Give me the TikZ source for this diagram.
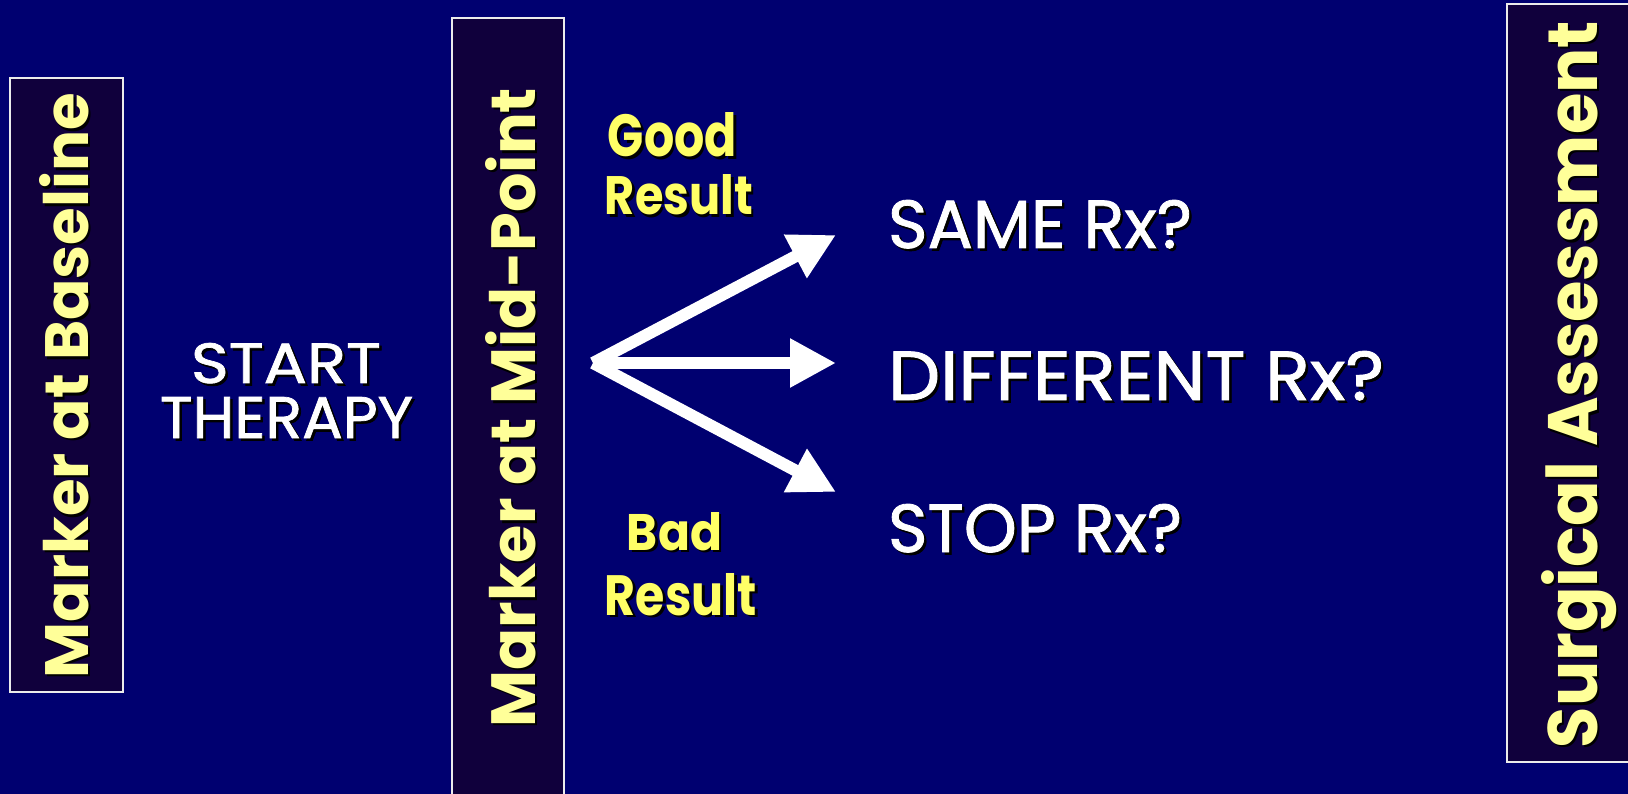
\documentclass[tikz,border=0pt]{standalone}
\usepackage{fontspec}
\setmainfont{Poppins}
\newfontfamily\plainheavy[FakeBold=1.2]{Poppins}
\usepackage{graphicx}
\usetikzlibrary{arrows.meta}

\definecolor{navybg}{RGB}{0,0,112}
\definecolor{panelfill}{RGB}{16,0,60}
\definecolor{paleyellow}{RGB}{255,255,153}
\definecolor{brightyellow}{RGB}{255,255,102}
\definecolor{shade}{RGB}{0,0,0}

% scale a line of text to a given width and height (in pt)
\newcommand{\fitline}[3]{\resizebox{#1pt}{#2pt}{#3}}
% text with a drop shadow down and to the right
\newcommand{\dropsh}[1]{\leavevmode\rlap{\kern2.5pt\raisebox{-2.5pt}{\color{shade}#1}}#1}
% same shadow for text turned by 90 degrees
\newcommand{\dropshr}[1]{\leavevmode\rlap{\kern-2.5pt\raisebox{-2.5pt}{\color{shade}#1}}#1}

\begin{document}
\begin{tikzpicture}[x=1pt,y=-1pt,
  panel/.style={draw=white!92!black, line width=2pt, fill=panelfill, inner sep=0pt},
  lbl/.style={inner sep=0pt, outer sep=0pt, anchor=base},
  sidelbl/.style={lbl, rotate=90, text=paleyellow, font=\bfseries},
  resultlbl/.style={lbl, text=brightyellow, font=\bfseries},
  startlbl/.style={lbl, text=white, font=\plainheavy},
  choicelbl/.style={lbl, anchor=base west, text=white, font=\plainheavy},
  fat arrow/.style={draw=white, line width=12pt, -{Triangle[length=46pt,width=46pt]}}]

\fill[navybg] (0,0) rectangle (1628,794);
\useasboundingbox (0,0) rectangle (1628,794);

% vertical panels
\draw[panel] (10,78) rectangle (123,692);
\draw[panel] (452,18) rectangle (564,810);
\draw[panel] (1507,4) rectangle (1640,762);

\node[sidelbl] (baseline) at (88,385.5) {\dropshr{\fitline{585}{49}{Marker at Baseline}}};
\node[sidelbl] (midpoint) at (535,407.5) {\dropshr{\fitline{639}{50}{Marker at Mid-Point}}};
\node[sidelbl] (surgical) at (1597,384.5) {\dropshr{\fitline{727}{56}{Surgical Assessment}}};

% therapy label
\node[startlbl] (start) at (286,383) {\dropsh{\fitline{190}{40}{START}}};
\node[startlbl] (therapy) at (286.5,438) {\dropsh{\fitline{253}{41}{THERAPY}}};

% result labels
\node[resultlbl] (good) at (672.5,157) {\dropsh{\fitline{129}{44}{Good}}};
\node[resultlbl] (goodres) at (679,215) {\dropsh{\fitline{148}{40}{Result}}};
\node[resultlbl] (bad) at (674.5,550) {\dropsh{\fitline{95}{38}{Bad}}};
\node[resultlbl] (badres) at (681,615) {\dropsh{\fitline{152}{42}{Result}}};

% choices
\node[choicelbl] (same) at (888,248) {\dropsh{\fitline{304}{48}{SAME Rx?}}};
\node[choicelbl] (different) at (888,400) {\dropsh{\fitline{496}{49}{DIFFERENT Rx?}}};
\node[choicelbl] (stop) at (888,552) {\dropsh{\fitline{294}{48}{STOP Rx?}}};

% fork of arrows
\coordinate (fork) at (593,363);
\coordinate (upTip) at (836,235);
\coordinate (midTip) at (836,363);
\coordinate (downTip) at (836,492);
\draw[fat arrow] (fork) -- (upTip);
\draw[fat arrow] (fork) -- (midTip);
\draw[fat arrow] (fork) -- (downTip);
\end{tikzpicture}
\end{document}
